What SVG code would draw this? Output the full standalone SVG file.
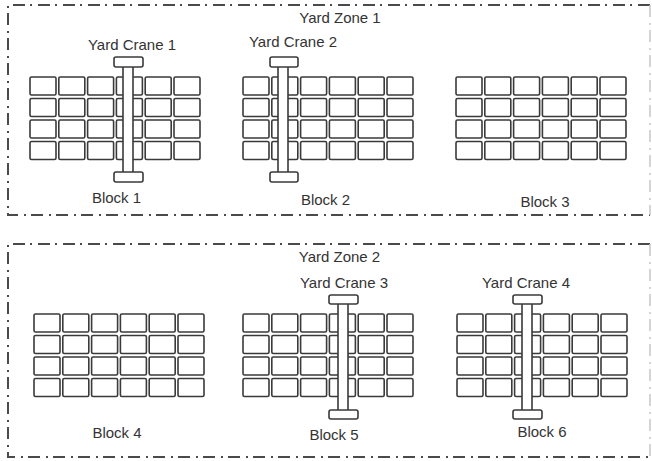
<svg xmlns="http://www.w3.org/2000/svg" xmlns:xlink="http://www.w3.org/1999/xlink" width="652" height="461" viewBox="0 0 652 461">
<style>
.zone{fill:none;stroke:#4a4a4a;stroke-width:2;stroke-dasharray:12 6 2 5}
.zoneR{fill:none;stroke:#c8c8c8;stroke-width:1.5;stroke-dasharray:12 6 2 5}
.cell{fill:#fff;stroke:#3a3a3a;stroke-width:1.6}
.crane{fill:#fff;stroke:#3a3a3a;stroke-width:1.6}
text{font-family:"Liberation Sans",Arial,sans-serif;font-size:15px;fill:#333;text-anchor:middle}
</style>
<defs>
<g id="row">
<rect class="cell" x="0" y="0" width="26" height="18" rx="1.5"/>
<rect class="cell" x="28.8" y="0" width="26" height="18" rx="1.5"/>
<rect class="cell" x="57.6" y="0" width="26" height="18" rx="1.5"/>
<rect class="cell" x="86.4" y="0" width="26" height="18" rx="1.5"/>
<rect class="cell" x="115.2" y="0" width="26" height="18" rx="1.5"/>
<rect class="cell" x="144" y="0" width="26" height="18" rx="1.5"/>
</g>
<g id="blk">
<use xlink:href="#row" y="0"/>
<use xlink:href="#row" y="21.5"/>
<use xlink:href="#row" y="43"/>
<use xlink:href="#row" y="64.5"/>
</g>
</defs>
<rect width="652" height="461" fill="#fff"/>
<g id="zone1">
<path class="zone" d="M650 5 H8 V215 H650"/>
<line class="zoneR" x1="650" y1="5" x2="650" y2="215"/>
<text x="340" y="23">Yard Zone 1</text>
</g>
<g id="zone2">
<path class="zone" d="M650 244 H8 V457 H650"/>
<line class="zoneR" x1="650" y1="244" x2="650" y2="457"/>
<text x="339.5" y="262">Yard Zone 2</text>
</g>
<g id="block1"><use xlink:href="#blk" x="30" y="77"/><text x="116.5" y="203">Block 1</text></g>
<g id="block2"><use xlink:href="#blk" x="243" y="77"/><text x="325.5" y="205">Block 2</text></g>
<g id="block3"><use xlink:href="#blk" x="456" y="77"/><text x="545" y="207">Block 3</text></g>
<g id="block4"><use xlink:href="#blk" x="34" y="314"/><text x="117" y="438">Block 4</text></g>
<g id="block5"><use xlink:href="#blk" x="243" y="314"/><text x="334" y="440">Block 5</text></g>
<g id="block6"><use xlink:href="#blk" x="457" y="314"/><text x="542" y="437">Block 6</text></g>
<g id="crane1">
<rect class="crane" x="123" y="66" width="10" height="107"/>
<rect class="crane" x="114" y="57" width="29" height="10" rx="2"/>
<rect class="crane" x="114" y="172" width="29" height="10" rx="2"/>
<text x="132" y="50">Yard Crane 1</text>
</g>
<g id="crane2">
<rect class="crane" x="278" y="66" width="10" height="107"/>
<rect class="crane" x="270" y="57" width="28" height="10" rx="2"/>
<rect class="crane" x="270" y="172" width="28" height="10" rx="2"/>
<text x="293" y="47">Yard Crane 2</text>
</g>
<g id="crane3">
<rect class="crane" x="338" y="303" width="10" height="108"/>
<rect class="crane" x="329" y="295" width="29" height="9" rx="2"/>
<rect class="crane" x="329" y="410" width="29" height="9" rx="2"/>
<text x="344" y="288">Yard Crane 3</text>
</g>
<g id="crane4">
<rect class="crane" x="522" y="303" width="10" height="108"/>
<rect class="crane" x="513" y="295" width="29" height="9" rx="2"/>
<rect class="crane" x="513" y="410" width="29" height="9" rx="2"/>
<text x="526" y="288">Yard Crane 4</text>
</g>
<g id="connectors"/>
</svg>
